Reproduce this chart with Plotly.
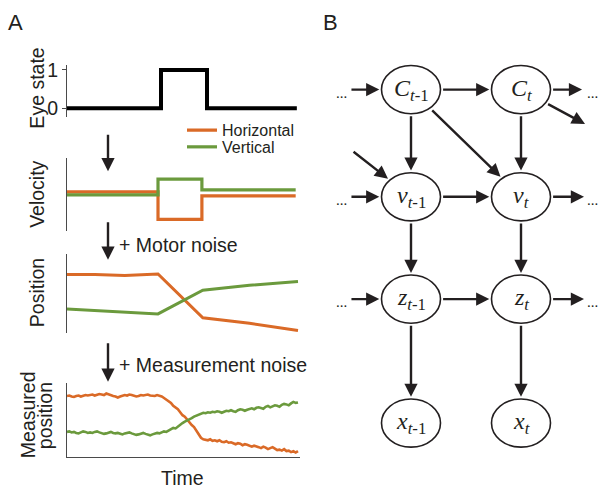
import math
import plotly.graph_objects as go

W, H = 598, 489
ORANGE = "#DA6A27"
GREEN = "#6B9A3D"
SANS = "Liberation Sans, Arial, sans-serif"
SERIF = "Liberation Serif, Times New Roman, serif"

# ---------------- Panel A data (time in arbitrary units 0..100) ----------------
eye_t = [0, 40.7, 60.6, 99.5]
eye_state = [0, 1, 0, 0]

vel_t = [0, 39.4, 58.4, 99.0]
vel_horizontal = [0.12, -1.0, -0.04, -0.04]
vel_vertical = [0.0, 0.64, 0.2, 0.2]

pos_t = [0, 12, 25, 39.4, 58.8, 79, 100]
pos_horizontal = [1.08, 1.08, 1.06, 1.09, 0.20, 0.09, -0.06]
pos_vertical = [0.38, 0.35, 0.33, 0.28, 0.76, 0.86, 0.94]

meas_t = list(range(0, 101))
meas_horizontal = [
    1.25, 1.26, 1.24, 1.23, 1.25, 1.26, 1.24, 1.25, 1.27, 1.26,
    1.27, 1.28, 1.26, 1.27, 1.29, 1.28, 1.27, 1.30, 1.28, 1.26,
    1.25, 1.24, 1.22, 1.24, 1.25, 1.27, 1.26, 1.28, 1.27, 1.25,
    1.24, 1.25, 1.27, 1.26, 1.27, 1.28, 1.26, 1.26, 1.25, 1.27,
    1.26, 1.24, 1.21, 1.17, 1.14, 1.11, 1.05, 1.01, 0.98, 0.92,
    0.86, 0.83, 0.77, 0.73, 0.66, 0.62, 0.55, 0.47, 0.40, 0.37,
    0.36, 0.35, 0.37, 0.34, 0.35, 0.33, 0.35, 0.32, 0.31, 0.33,
    0.30, 0.31, 0.29, 0.27, 0.29, 0.28, 0.25, 0.27, 0.26, 0.24,
    0.22, 0.24, 0.23, 0.21, 0.19, 0.22, 0.20, 0.17, 0.19, 0.21,
    0.18, 0.15, 0.16, 0.14, 0.17, 0.13, 0.14, 0.11, 0.13, 0.10, 0.13,
]
meas_vertical = [
    0.52, 0.53, 0.51, 0.52, 0.50, 0.49, 0.51, 0.53, 0.52, 0.50,
    0.51, 0.50, 0.52, 0.53, 0.51, 0.50, 0.48, 0.49, 0.51, 0.52,
    0.50, 0.49, 0.50, 0.48, 0.47, 0.49, 0.50, 0.51, 0.49, 0.48,
    0.46, 0.47, 0.49, 0.50, 0.48, 0.47, 0.45, 0.47, 0.48, 0.50,
    0.49, 0.51, 0.53, 0.52, 0.55, 0.58, 0.60, 0.59, 0.63, 0.67,
    0.70, 0.73, 0.75, 0.77, 0.80, 0.83, 0.85, 0.88, 0.89, 0.91,
    0.90, 0.92, 0.91, 0.93, 0.92, 0.94, 0.93, 0.91, 0.93, 0.95,
    0.94, 0.96, 0.94, 0.93, 0.96, 0.98, 0.97, 0.95, 0.97, 0.99,
    1.00, 0.98, 1.01, 1.02, 1.00, 0.99, 1.03, 1.05, 1.02, 1.04,
    1.06, 1.05, 1.03, 1.07, 1.09, 1.08, 1.06, 1.10, 1.13, 1.11, 1.12,
]

# ---------------- Panel B data: graphical model ----------------
node_names = ["C0", "C1", "v0", "v1", "z0", "z1", "x0", "x1"]
node_col = [0, 1, 0, 1, 0, 1, 0, 1]
node_row = [0, 0, 1.028, 1.028, 2.009, 2.009, 3.198, 3.198]
node_labels = [
    "<i>C</i><sub><i>t</i>-1</sub>", "<i>C</i><sub><i>t</i></sub>",
    "<i>v</i><sub><i>t</i>-1</sub>", "<i>v</i><sub><i>t</i></sub>",
    "<i>z</i><sub><i>t</i>-1</sub>", "<i>z</i><sub><i>t</i></sub>",
    "<i>x</i><sub><i>t</i>-1</sub>", "<i>x</i><sub><i>t</i></sub>",
]
edges = [("C0", "C1"), ("C0", "v0"), ("C0", "v1"), ("C1", "v1"),
         ("v0", "v1"), ("v0", "z0"), ("v1", "z1"), ("z0", "z1"),
         ("z0", "x0"), ("z1", "x1")]
# dependencies arriving from the previous slice (tail point, target node)
incoming = [((-0.555, 0.0), "C0"), ((-0.555, 1.028), "v0"),
            ((-0.536, 0.585), "v0"), ((-0.555, 2.009), "z0")]
# dependencies leaving towards the next slice (source node, head point)
outgoing = [("C1", (1.555, 0.0)), ("C1", (1.582, 0.33)),
            ("v1", (1.573, 1.028)), ("z1", (1.573, 2.009))]
ellipsis_left = [0.0, 1.028, 2.009]
ellipsis_right = [0.0, 1.028, 2.009]

# ---------------- layout helpers ----------------
def ydom(top_px, bot_px):
    return [1 - bot_px / H, 1 - top_px / H]

def px(xp, yp):
    return xp / W, 1 - yp / H

XDOM = [67 / W, 300 / W]
XRANGE = [0, 100.87]
AXLINE = "#4a4a4a"

fig = go.Figure()

# Eye state
fig.add_trace(go.Scatter(x=eye_t, y=eye_state, mode="lines", line_shape="hv",
                         line=dict(color="black", width=4), showlegend=False,
                         xaxis="x", yaxis="y"))
# Velocity
fig.add_trace(go.Scatter(x=vel_t, y=vel_horizontal, mode="lines", line_shape="hv",
                         line=dict(color=ORANGE, width=3.2), name="Horizontal",
                         legendgroup="h", legend="legend", xaxis="x2", yaxis="y2"))
fig.add_trace(go.Scatter(x=vel_t, y=vel_vertical, mode="lines", line_shape="hv",
                         line=dict(color=GREEN, width=3.2), name="Vertical",
                         legendgroup="v", legend="legend2", xaxis="x2", yaxis="y2"))
# Position
fig.add_trace(go.Scatter(x=pos_t, y=pos_horizontal, mode="lines",
                         line=dict(color=ORANGE, width=3), showlegend=False,
                         legendgroup="h", xaxis="x3", yaxis="y3"))
fig.add_trace(go.Scatter(x=pos_t, y=pos_vertical, mode="lines",
                         line=dict(color=GREEN, width=3), showlegend=False,
                         legendgroup="v", xaxis="x3", yaxis="y3"))
# Measured position
fig.add_trace(go.Scatter(x=meas_t, y=meas_horizontal, mode="lines",
                         line=dict(color=ORANGE, width=2.6), showlegend=False,
                         legendgroup="h", xaxis="x4", yaxis="y4"))
fig.add_trace(go.Scatter(x=meas_t, y=meas_vertical, mode="lines",
                         line=dict(color=GREEN, width=2.6), showlegend=False,
                         legendgroup="v", xaxis="x4", yaxis="y4"))

hidden_x = dict(domain=XDOM, range=XRANGE, visible=False, fixedrange=True)
yline = dict(showline=True, linecolor=AXLINE, linewidth=1, showgrid=False,
             zeroline=False, showticklabels=False, ticks="")

# Diagram coordinate system: 110 px per column, 106 px per row
DX0, DSX = 411, 110
DY0, DSY = 85, 106
x5_range = [(320 - DX0) / DSX, (W - DX0) / DSX]
y5_range = [(H - DY0) / DSY, (0 - DY0) / DSY]

legend_style = dict(xanchor="left", yanchor="top", font=dict(size=16, family=SANS),
                    bgcolor="rgba(0,0,0,0)", tracegroupgap=0)

fig.update_layout(
    width=W, height=H, margin=dict(l=0, r=0, t=0, b=0),
    paper_bgcolor="white", plot_bgcolor="white",
    font=dict(family=SANS, color="#231f20"),
    xaxis=dict(hidden_x, anchor="y"),
    yaxis=dict(domain=ydom(60, 113), range=[-0.231, 1.128], anchor="x",
               showline=True, linecolor=AXLINE, linewidth=1, showgrid=False,
               zeroline=False, tickvals=[0, 1], ticks="outside", ticklen=4,
               tickcolor=AXLINE, tickfont=dict(size=19.5, family=SANS)),
    xaxis2=dict(hidden_x, anchor="y2"),
    yaxis2=dict(yline, domain=ydom(155, 229), range=[-1.48, 1.48], anchor="x2"),
    xaxis3=dict(hidden_x, anchor="y3"),
    yaxis3=dict(yline, domain=ydom(252, 332), range=[-0.1, 1.5], anchor="x3"),
    xaxis4=dict(domain=XDOM, range=XRANGE, anchor="y4", showline=True,
                linecolor=AXLINE, linewidth=1, showgrid=False, zeroline=False,
                showticklabels=False, ticks=""),
    yaxis4=dict(yline, domain=ydom(383, 459), range=[0, 1.52], anchor="x4"),
    xaxis5=dict(domain=[320 / W, 1], range=x5_range, visible=False, anchor="y5"),
    yaxis5=dict(domain=[0, 1], range=y5_range, visible=False, anchor="x5"),
    legend=dict(legend_style, x=182 / W, y=1 - 109 / H),
    legend2=dict(legend_style, x=182 / W, y=1 - 126 / H),
    showlegend=True,
)

annotations = []

def text_ann(text, xp, yp, size, angle=0, xanchor="center", family=SANS):
    x, y = px(xp, yp)
    annotations.append(dict(text=text, x=x, y=y, xref="paper", yref="paper",
                            showarrow=False, textangle=angle, xanchor=xanchor,
                            yanchor="middle", font=dict(size=size, family=family,
                                                        color="#231f20")))

# Panel letters
text_ann("A", 15, 17, 22)
text_ann("B", 330, 17, 22)
# Axis titles
text_ann("Eye state", 37, 84, 19.5, angle=-90)
text_ann("Velocity", 37, 192, 19.5, angle=-90)
text_ann("Position", 37, 292, 19.5, angle=-90)
text_ann("Measured", 28, 415, 19.5, angle=-90)
text_ann("position", 45, 417, 19.5, angle=-90)
text_ann("Time", 182, 480, 19.5)
# Processing steps between rows
text_ann("+ Motor noise", 117, 243, 19.5, xanchor="left")
text_ann("+ Measurement noise", 117, 365, 19.5, xanchor="left")

for y_tail, y_head in [(130, 168), (219, 258), (342, 382)]:
    x, y = px(108, y_head)
    annotations.append(dict(x=x, y=y, xref="paper", yref="paper", text="",
                            showarrow=True, ax=0, ay=-(y_head - y_tail),
                            arrowhead=2, arrowsize=1.1, arrowwidth=2.4,
                            arrowcolor="#231f20", standoff=0))

# ---------------- Panel B drawing ----------------
RX, RY = 29.5 / DSX, 24.5 / DSY
pos = {n: (c, r) for n, c, r in zip(node_names, node_col, node_row)}

def boundary(center, toward, gap=0.0):
    du, dv = toward[0] - center[0], toward[1] - center[1]
    t = 1 / math.sqrt((du / RX) ** 2 + (dv / RY) ** 2)
    L = math.hypot(du, dv)
    g = gap / L if L else 0
    return center[0] + du * (t + g), center[1] + dv * (t + g)

def arrow(tail, head):
    annotations.append(dict(x=head[0], y=head[1], ax=tail[0], ay=tail[1],
                            xref="x5", yref="y5", axref="x5", ayref="y5",
                            text="", showarrow=True, arrowhead=2, arrowsize=1.1,
                            arrowwidth=2.4, arrowcolor="#231f20", standoff=0))

for a, b in edges:
    arrow(boundary(pos[a], pos[b], 0.01), boundary(pos[b], pos[a], 0.02))
for tail, n in incoming:
    arrow(tail, boundary(pos[n], tail, 0.02))
for n, head in outgoing:
    arrow(boundary(pos[n], head, 0.01), head)

shapes = []
for n in node_names:
    c, r = pos[n]
    shapes.append(dict(type="circle", xref="x5", yref="y5",
                       x0=c - RX, x1=c + RX, y0=r - RY, y1=r + RY,
                       line=dict(color="#231f20", width=1.6),
                       fillcolor="white", layer="below"))

for n, lab in zip(node_names, node_labels):
    c, r = pos[n]
    annotations.append(dict(x=c, y=r, xref="x5", yref="y5", text=lab,
                            showarrow=False, xanchor="center", yanchor="middle",
                            font=dict(size=24, family=SERIF, color="#231f20")))

for r in ellipsis_left:
    annotations.append(dict(x=-0.636, y=r + 0.03, xref="x5", yref="y5", text="...",
                            showarrow=False, font=dict(size=15, family=SERIF,
                                                       color="#231f20")))
for r in ellipsis_right:
    annotations.append(dict(x=1.648, y=r + 0.03, xref="x5", yref="y5", text="...",
                            showarrow=False, font=dict(size=15, family=SERIF,
                                                       color="#231f20")))

fig.update_layout(annotations=annotations, shapes=shapes)
fig.write_html("out.html")
